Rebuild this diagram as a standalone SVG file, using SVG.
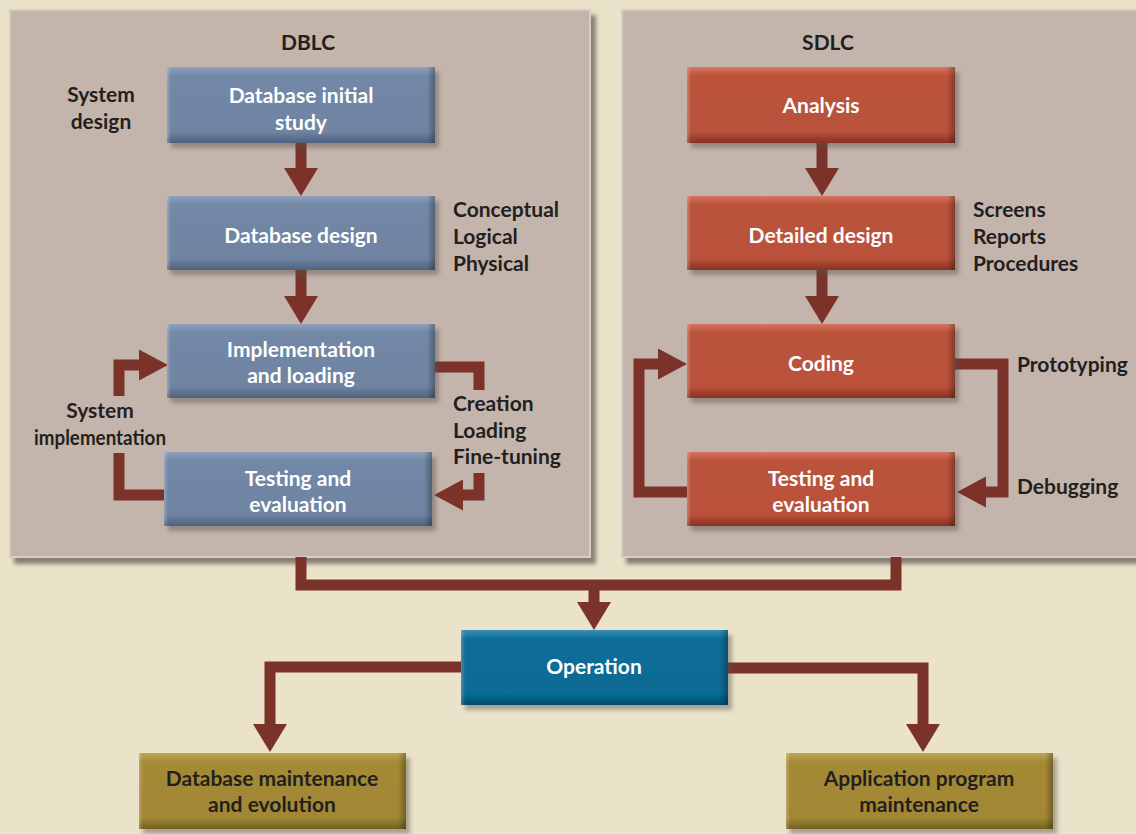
<svg xmlns="http://www.w3.org/2000/svg" width="1136" height="834" viewBox="0 0 1136 834">
<defs>
<style>
text{font-family:Lato,"Open Sans","Liberation Sans",sans-serif;font-weight:bold;font-size:21px}
.w{fill:#ffffff;text-anchor:middle}
.d{fill:#231f20}
.dc{fill:#231f20;text-anchor:middle}
.conn{fill:none;stroke:#7b3329;stroke-width:11;stroke-linejoin:miter}
.panel{fill:#c4b5ac;stroke:#d8ccc4;stroke-width:2}
.edge{fill:url(#gEdge);pointer-events:none}
</style>
<linearGradient id="gBlue" x1="0" y1="0" x2="0" y2="1"><stop offset="0" stop-color="#8ea1bb"/><stop offset="0.12" stop-color="#7288a6"/><stop offset="0.85" stop-color="#6f84a2"/><stop offset="1" stop-color="#4e627f"/></linearGradient>
<linearGradient id="gRed" x1="0" y1="0" x2="0" y2="1"><stop offset="0" stop-color="#d7745c"/><stop offset="0.12" stop-color="#bb533b"/><stop offset="0.85" stop-color="#b9513a"/><stop offset="1" stop-color="#863224"/></linearGradient>
<linearGradient id="gTeal" x1="0" y1="0" x2="0" y2="1"><stop offset="0" stop-color="#3a8fb5"/><stop offset="0.12" stop-color="#0b6e98"/><stop offset="0.85" stop-color="#076b95"/><stop offset="1" stop-color="#044d6d"/></linearGradient>
<linearGradient id="gOlive" x1="0" y1="0" x2="0" y2="1"><stop offset="0" stop-color="#c0a655"/><stop offset="0.12" stop-color="#a48a35"/><stop offset="0.85" stop-color="#a28834"/><stop offset="1" stop-color="#74611f"/></linearGradient>
<linearGradient id="gEdge" x1="0" y1="0" x2="1" y2="0"><stop offset="0" stop-color="#ffffff" stop-opacity="0.25"/><stop offset="0.015" stop-color="#ffffff" stop-opacity="0"/><stop offset="0.97" stop-color="#000000" stop-opacity="0"/><stop offset="1" stop-color="#000000" stop-opacity="0.3"/></linearGradient>
<filter id="sh" x="-10%" y="-10%" width="130%" height="140%"><feDropShadow dx="5" dy="6" stdDeviation="2" flood-color="#5e5550" flood-opacity="0.7"/></filter>
<filter id="bsh" x="-10%" y="-10%" width="130%" height="150%"><feDropShadow dx="4" dy="5" stdDeviation="2" flood-color="#5a504a" flood-opacity="0.45"/></filter>
<marker id="ah" viewBox="0 0 28 34" refX="0" refY="17" markerWidth="28" markerHeight="34" markerUnits="userSpaceOnUse" orient="auto"><path d="M0,0 L28,17 L0,34 z" fill="#7b3329"/></marker>
<marker id="ahs" viewBox="0 0 29 31" refX="0" refY="15.5" markerWidth="29" markerHeight="31" markerUnits="userSpaceOnUse" orient="auto"><path d="M0,0 L29,15.5 L0,31 z" fill="#7b3329"/></marker>
</defs>
<rect x="0" y="0" width="1136" height="834" fill="#eae2c9"/>
<g id="panel-dblc"><rect class="panel" x="10" y="10" width="580" height="547" filter="url(#sh)"/><text class="dc" x="308" y="50">DBLC</text></g>
<g id="panel-sdlc"><rect class="panel" x="622" y="10" width="530" height="547" filter="url(#sh)"/><text class="dc" x="828" y="50">SDLC</text></g>
<g id="connectors">
<path class="conn" d="M301,143 V168" marker-end="url(#ah)"/>
<path class="conn" d="M301,270 V296" marker-end="url(#ah)"/>
<path class="conn" d="M822,143 V168" marker-end="url(#ah)"/>
<path class="conn" d="M822,270 V296" marker-end="url(#ah)"/>
<path class="conn" d="M119,396 V365 H139" marker-end="url(#ahs)"/>
<path class="conn" d="M164,495 H119 V453"/>
<path class="conn" d="M435,367 H479 V390"/>
<path class="conn" d="M479,473 V495 H463" marker-end="url(#ahs)"/>
<path class="conn" d="M955,364 H1003 V492 H986" marker-end="url(#ahs)"/>
<path class="conn" d="M687,492 H639 V364 H658" marker-end="url(#ahs)"/>
<path class="conn" d="M301,557 V585 H896 V557"/>
<path class="conn" d="M594,585 V602" marker-end="url(#ah)"/>
<path class="conn" d="M461,667 H270 V724" marker-end="url(#ah)"/>
<path class="conn" d="M728,668 H923 V724" marker-end="url(#ah)"/>
</g>
<g id="n-initial"><rect x="167" y="67" width="268" height="76" fill="url(#gBlue)" filter="url(#bsh)"/><rect class="edge" x="167" y="67" width="268" height="76"/><text class="w" x="301" y="103">Database initial</text><text class="w" x="301" y="130">study</text></g>
<g id="n-dbdesign"><rect x="167" y="196" width="268" height="74" fill="url(#gBlue)" filter="url(#bsh)"/><rect class="edge" x="167" y="196" width="268" height="74"/><text class="w" x="301" y="243">Database design</text></g>
<g id="n-impl"><rect x="167" y="324" width="268" height="74" fill="url(#gBlue)" filter="url(#bsh)"/><rect class="edge" x="167" y="324" width="268" height="74"/><text class="w" x="301" y="357">Implementation</text><text class="w" x="301" y="383">and loading</text></g>
<g id="n-dbtest"><rect x="164" y="452" width="268" height="74" fill="url(#gBlue)" filter="url(#bsh)"/><rect class="edge" x="164" y="452" width="268" height="74"/><text class="w" x="298" y="486">Testing and</text><text class="w" x="298" y="512">evaluation</text></g>
<g id="n-analysis"><rect x="687" y="67" width="268" height="76" fill="url(#gRed)" filter="url(#bsh)"/><rect class="edge" x="687" y="67" width="268" height="76"/><text class="w" x="821" y="113">Analysis</text></g>
<g id="n-detailed"><rect x="687" y="196" width="268" height="74" fill="url(#gRed)" filter="url(#bsh)"/><rect class="edge" x="687" y="196" width="268" height="74"/><text class="w" x="821" y="243">Detailed design</text></g>
<g id="n-coding"><rect x="687" y="324" width="268" height="74" fill="url(#gRed)" filter="url(#bsh)"/><rect class="edge" x="687" y="324" width="268" height="74"/><text class="w" x="821" y="371">Coding</text></g>
<g id="n-swtest"><rect x="687" y="452" width="268" height="74" fill="url(#gRed)" filter="url(#bsh)"/><rect class="edge" x="687" y="452" width="268" height="74"/><text class="w" x="821" y="486">Testing and</text><text class="w" x="821" y="512">evaluation</text></g>
<g id="n-operation"><rect x="461" y="630" width="267" height="75" fill="url(#gTeal)" filter="url(#bsh)"/><rect class="edge" x="461" y="630" width="267" height="75"/><text class="w" x="594" y="674">Operation</text></g>
<g id="n-dbmaint"><rect x="139" y="753" width="267" height="76" fill="url(#gOlive)" filter="url(#bsh)"/><rect class="edge" x="139" y="753" width="267" height="76"/><text class="dc" x="272" y="786">Database maintenance</text><text class="dc" x="272" y="812">and evolution</text></g>
<g id="n-appmaint"><rect x="786" y="753" width="267" height="76" fill="url(#gOlive)" filter="url(#bsh)"/><rect class="edge" x="786" y="753" width="267" height="76"/><text class="dc" x="919" y="786">Application program</text><text class="dc" x="919" y="812">maintenance</text></g>
<g id="labels">
<text class="dc" x="101" y="102">System</text><text class="dc" x="101" y="129">design</text>
<text class="d" x="453" y="217">Conceptual</text><text class="d" x="453" y="244">Logical</text><text class="d" x="453" y="271">Physical</text>
<text class="dc" x="100" y="418">System</text><text class="d" x="34" y="445" textLength="132" lengthAdjust="spacingAndGlyphs">implementation</text>
<text class="d" x="453" y="411">Creation</text><text class="d" x="453" y="438">Loading</text><text class="d" x="453" y="464">Fine-tuning</text>
<text class="d" x="973" y="217">Screens</text><text class="d" x="973" y="244">Reports</text><text class="d" x="973" y="271">Procedures</text>
<text class="d" x="1017" y="372">Prototyping</text>
<text class="d" x="1017" y="494">Debugging</text>
</g>
</svg>
